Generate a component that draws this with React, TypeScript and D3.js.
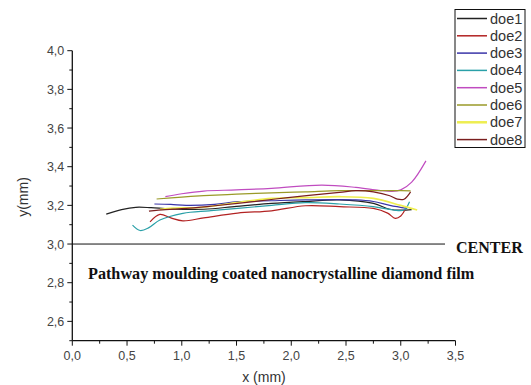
import React from "react";
import * as d3 from "d3";

const seriesNames = ["doe1", "doe2", "doe3", "doe4", "doe5", "doe6", "doe7", "doe8"];
const seriesColors = ["#222222", "#b22222", "#3a35a8", "#2aa0a8", "#c04cc0", "#9a9a28", "#eeee50", "#7a1e1e"];

const doe1X = [0.31, 0.45, 0.58, 0.72, 0.89, 1.2, 1.5, 1.82, 2.13, 2.44, 2.75, 2.9, 3.0, 3.1];
const doe1Y = [3.155, 3.178, 3.19, 3.188, 3.182, 3.18, 3.195, 3.21, 3.22, 3.228, 3.21, 3.18, 3.175, 3.178];
const doe2X = [0.71, 0.8, 0.9, 1.01, 1.2, 1.51, 1.82, 2.13, 2.44, 2.75, 2.88, 2.95, 3.0, 3.05];
const doe2Y = [3.115, 3.153, 3.135, 3.12, 3.135, 3.16, 3.172, 3.198, 3.193, 3.184, 3.16, 3.133, 3.145, 3.19];
const doe3X = [0.75, 0.9, 1.04, 1.3, 1.51, 1.82, 2.13, 2.59, 2.75, 2.9, 3.06];
const doe3Y = [3.207, 3.205, 3.2, 3.205, 3.219, 3.224, 3.228, 3.228, 3.22, 3.2, 3.184];
const doe4X = [0.55, 0.62, 0.7, 0.8, 1.01, 1.25, 1.51, 1.82, 2.13, 2.44, 2.75, 2.93, 3.03, 3.08];
const doe4Y = [3.098, 3.07, 3.085, 3.124, 3.159, 3.172, 3.184, 3.2, 3.214, 3.207, 3.193, 3.176, 3.176, 3.219];
const doe5X = [0.85, 1.0, 1.2, 1.5, 1.82, 2.28, 2.59, 2.8, 2.92, 3.0, 3.1, 3.23];
const doe5Y = [3.245, 3.26, 3.274, 3.28, 3.288, 3.305, 3.293, 3.278, 3.272, 3.28, 3.32, 3.43];
const doe6X = [0.77, 1.0, 1.2, 1.5, 1.82, 2.13, 2.44, 2.75, 3.0, 3.09];
const doe6Y = [3.233, 3.243, 3.25, 3.258, 3.265, 3.27, 3.276, 3.276, 3.276, 3.275];
const doe7X = [0.8, 0.92, 1.2, 1.5, 1.82, 2.13, 2.44, 2.75, 3.0, 3.15];
const doe7Y = [3.18, 3.186, 3.19, 3.215, 3.236, 3.24, 3.245, 3.236, 3.2, 3.176];
const doe8X = [0.7, 0.85, 1.04, 1.25, 1.51, 1.97, 2.44, 2.59, 2.75, 2.9, 2.97, 3.03, 3.09];
const doe8Y = [3.17, 3.178, 3.184, 3.195, 3.21, 3.24, 3.267, 3.276, 3.27, 3.25, 3.232, 3.232, 3.27];

const seriesX = [doe1X, doe2X, doe3X, doe4X, doe5X, doe6X, doe7X, doe8X];
const seriesY = [doe1Y, doe2Y, doe3Y, doe4Y, doe5Y, doe6Y, doe7Y, doe8Y];

const xTicks = [0, 0.5, 1, 1.5, 2, 2.5, 3, 3.5];
const xMinor = [0.25, 0.75, 1.25, 1.75, 2.25, 2.75, 3.25];
const yTicks = [2.6, 2.8, 3.0, 3.2, 3.4, 3.6, 3.8, 4.0];
const yMinor = [2.5, 2.7, 2.9, 3.1, 3.3, 3.5, 3.7, 3.9];
const centerValue = 3.0;

const fmt = (v: number) => v.toFixed(1).replace(".", ",");

export default function App() {
  const W = 531, H = 385;
  const x = d3.scaleLinear().domain([0, 3.5]).range([72.3, 455.5]);
  const y = d3.scaleLinear().domain([2.5, 4.0]).range([340.7, 50.7]);
  const line = d3.line<[number, number]>().x(d => x(d[0])).y(d => y(d[1])).curve(d3.curveCatmullRom.alpha(0.5));
  const sans = "'Liberation Sans', Arial, sans-serif";
  const serif = "'Liberation Serif', 'Times New Roman', serif";
  const x0 = x(0), yb = y(2.5);
  return (
    <svg width={W} height={H} style={{ position: "absolute", left: 0, top: 0, background: "#fff" }}>
      {seriesNames.map((n, i) => (
        <path key={n} d={line(seriesX[i].map((v, j) => [v, seriesY[i][j]] as [number, number])) || ""}
          fill="none" stroke={seriesColors[i]} strokeWidth={i === 6 ? 1.6 : 1.2} />
      ))}
      {/* center line */}
      <line x1={x0} x2={445} y1={y(centerValue)} y2={y(centerValue)} stroke="#111" strokeWidth={1} />
      <text x={456} y={y(centerValue) + 9} fontFamily={serif} fontWeight="bold" fontSize={16} fill="#111">CENTER</text>
      <text x={88} y={279} fontFamily={serif} fontWeight="bold" fontSize={16.2} fill="#111">Pathway moulding coated nanocrystalline diamond film</text>
      {/* axes */}
      <line x1={x0} x2={x0} y1={y(4.0)} y2={yb} stroke="#111" strokeWidth={1.3} />
      <line x1={x0} x2={x(3.5)} y1={yb} y2={yb} stroke="#111" strokeWidth={1.3} />
      {yTicks.map(t => (
        <g key={"y" + t}>
          <line x1={x0 - 5} x2={x0} y1={y(t)} y2={y(t)} stroke="#111" strokeWidth={1} />
          <text x={x0 - 8} y={y(t) + 4.5} textAnchor="end" fontFamily={sans} fontSize={12.5} fill="#444">{fmt(t)}</text>
        </g>
      ))}
      {yMinor.map(t => (
        <line key={"ym" + t} x1={x0 - 3} x2={x0} y1={y(t)} y2={y(t)} stroke="#111" strokeWidth={1} />
      ))}
      {xTicks.map(t => (
        <g key={"x" + t}>
          <line x1={x(t)} x2={x(t)} y1={yb} y2={yb + 5} stroke="#111" strokeWidth={1} />
          <text x={x(t)} y={yb + 19} textAnchor="middle" fontFamily={sans} fontSize={12.5} fill="#444">{fmt(t)}</text>
        </g>
      ))}
      {xMinor.map(t => (
        <line key={"xm" + t} x1={x(t)} x2={x(t)} y1={yb} y2={yb + 3} stroke="#111" strokeWidth={1} />
      ))}
      <text x={264} y={382} textAnchor="middle" fontFamily={sans} fontSize={14} fill="#333">x (mm)</text>
      <text transform={`translate(28,197) rotate(-90)`} textAnchor="middle" fontFamily={sans} fontSize={14} fill="#333">y(mm)</text>
      {/* legend */}
      <rect x={455} y={9.5} width={70} height={138} fill="#fff" stroke="#111" strokeWidth={1} />
      {seriesNames.map((n, i) => {
        const ly = 18.5 + i * 17.3;
        return (
          <g key={"l" + n}>
            <line x1={457} x2={487} y1={ly} y2={ly} stroke={seriesColors[i]} strokeWidth={i === 6 ? 2.5 : 1.5} />
            <text x={490} y={ly + 5} fontFamily={sans} fontSize={14.5} fill="#333">{n}</text>
          </g>
        );
      })}
    </svg>
  );
}
